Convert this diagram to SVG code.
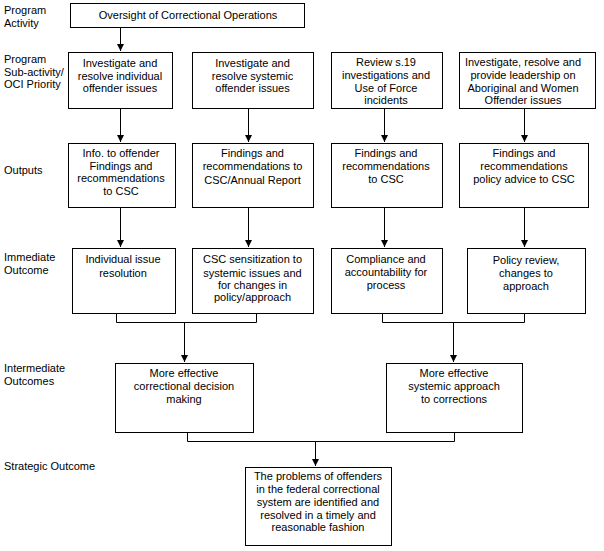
<svg xmlns="http://www.w3.org/2000/svg" width="604" height="551" viewBox="0 0 604 551">
<style>
.box{fill:#fff;stroke:#000;stroke-width:1}
.ln{fill:none;stroke:#000;stroke-width:1}
text{font-family:"Liberation Sans",Arial,sans-serif;font-size:11px;fill:#000}
.c{text-anchor:middle}
</style>
<defs>
<marker id="ah" markerUnits="userSpaceOnUse" markerWidth="7" markerHeight="7" refX="7" refY="3.5" orient="auto" viewBox="0 0 7 7">
<path d="M0,0 L7,3.5 L0,7 z" fill="#000"/>
</marker>
</defs>
<rect width="604" height="551" fill="#fff"/>
<g id="labels">
<text x="4" y="14">Program</text>
<text x="4" y="27">Activity</text>
<text x="4" y="63">Program</text>
<text x="4" y="76">Sub-activity/</text>
<text x="4" y="88">OCI Priority</text>
<text x="4" y="174">Outputs</text>
<text x="4" y="261">Immediate</text>
<text x="4" y="274">Outcome</text>
<text x="4" y="372">Intermediate</text>
<text x="4" y="385">Outcomes</text>
<text x="4" y="470">Strategic Outcome</text>
</g>
<g id="connectors">
<path class="ln" d="M120.5,28 V51" marker-end="url(#ah)"/>
<path class="ln" d="M120.5,109 V142" marker-end="url(#ah)"/>
<path class="ln" d="M248.5,109 V142" marker-end="url(#ah)"/>
<path class="ln" d="M384.5,109 V142" marker-end="url(#ah)"/>
<path class="ln" d="M524.5,109 V142" marker-end="url(#ah)"/>
<path class="ln" d="M120.5,207 V247" marker-end="url(#ah)"/>
<path class="ln" d="M248.5,207 V247" marker-end="url(#ah)"/>
<path class="ln" d="M384.5,207 V247" marker-end="url(#ah)"/>
<path class="ln" d="M524.5,207 V247" marker-end="url(#ah)"/>
<path class="ln" d="M116.5,313 V322.5 H256.5 V313"/>
<path class="ln" d="M184.5,322.5 V362" marker-end="url(#ah)"/>
<path class="ln" d="M382.5,313 V322.5 H524.5 V313"/>
<path class="ln" d="M453.5,322.5 V362" marker-end="url(#ah)"/>
<path class="ln" d="M187.5,427 V441.5 H454.5 V427"/>
<path class="ln" d="M315.5,441.5 V466" marker-end="url(#ah)"/>
</g>
<g id="n-top">
<rect class="box" x="70.5" y="3.5" width="234" height="24"/>
<text class="c" x="188" y="19">Oversight of Correctional Operations</text>
</g>
<g id="n-sub1">
<rect class="box" x="68.5" y="52.5" width="104" height="56"/>
<text class="c" x="120" y="67">Investigate and</text>
<text class="c" x="120" y="79.5">resolve individual</text>
<text class="c" x="120" y="92">offender issues</text>
</g>
<g id="n-sub2">
<rect class="box" x="192.5" y="52.5" width="121" height="56"/>
<text class="c" x="252.5" y="67">Investigate and</text>
<text class="c" x="252.5" y="79.5">resolve systemic</text>
<text class="c" x="252.5" y="92">offender issues</text>
</g>
<g id="n-sub3">
<rect class="box" x="331.5" y="52.5" width="111" height="56"/>
<text class="c" x="386" y="66">Review s.19</text>
<text class="c" x="386" y="79">investigations and</text>
<text class="c" x="386" y="91.5">Use of Force</text>
<text class="c" x="386" y="104">incidents</text>
</g>
<g id="n-sub4">
<rect class="box" x="459.5" y="52.5" width="136" height="56"/>
<text class="c" x="523" y="66">Investigate, resolve and</text>
<text class="c" x="523" y="79">provide leadership on</text>
<text class="c" x="523" y="91.5">Aboriginal and Women</text>
<text class="c" x="523" y="104">Offender issues</text>
</g>
<g id="n-out1">
<rect class="box" x="68.5" y="143.5" width="107" height="64"/>
<text class="c" x="121" y="157">Info. to offender</text>
<text class="c" x="121" y="169.5">Findings and</text>
<text class="c" x="121" y="182">recommendations</text>
<text class="c" x="121" y="194.5">to CSC</text>
</g>
<g id="n-out2">
<rect class="box" x="192.5" y="143.5" width="121" height="64"/>
<text class="c" x="252.5" y="157">Findings and</text>
<text class="c" x="252.5" y="170">recommendations to</text>
<text class="c" x="252.5" y="183.5">CSC/Annual Report</text>
</g>
<g id="n-out3">
<rect class="box" x="331.5" y="143.5" width="111" height="64"/>
<text class="c" x="386" y="157">Findings and</text>
<text class="c" x="386" y="170">recommendations</text>
<text class="c" x="386" y="183">to CSC</text>
</g>
<g id="n-out4">
<rect class="box" x="459.5" y="143.5" width="129" height="64"/>
<text class="c" x="524" y="157">Findings and</text>
<text class="c" x="524" y="170">recommendations</text>
<text class="c" x="524" y="183">policy advice to CSC</text>
</g>
<g id="n-imm1">
<rect class="box" x="72.5" y="248.5" width="103" height="65"/>
<text class="c" x="123" y="263">Individual issue</text>
<text class="c" x="123" y="276.5">resolution</text>
</g>
<g id="n-imm2">
<rect class="box" x="192.5" y="248.5" width="121" height="65"/>
<text class="c" x="252.5" y="263">CSC sensitization to</text>
<text class="c" x="252.5" y="276.5">systemic issues and</text>
<text class="c" x="252.5" y="289">for changes in</text>
<text class="c" x="252.5" y="301">policy/approach</text>
</g>
<g id="n-imm3">
<rect class="box" x="331.5" y="248.5" width="111" height="65"/>
<text class="c" x="386" y="263">Compliance and</text>
<text class="c" x="386" y="276">accountability for</text>
<text class="c" x="386" y="289">process</text>
</g>
<g id="n-imm4">
<rect class="box" x="467.5" y="248.5" width="118" height="65"/>
<text class="c" x="526" y="264">Policy review,</text>
<text class="c" x="526" y="277">changes to</text>
<text class="c" x="526" y="290">approach</text>
</g>
<g id="n-int1">
<rect class="box" x="115.5" y="363.5" width="138" height="69"/>
<text class="c" x="184" y="377">More effective</text>
<text class="c" x="184" y="390">correctional decision</text>
<text class="c" x="184" y="403">making</text>
</g>
<g id="n-int2">
<rect class="box" x="386.5" y="363.5" width="136" height="69"/>
<text class="c" x="454" y="377">More effective</text>
<text class="c" x="454" y="390">systemic approach</text>
<text class="c" x="454" y="403">to corrections</text>
</g>
<g id="n-strat">
<rect class="box" x="245.5" y="467.5" width="146" height="78"/>
<text class="c" x="318" y="480">The problems of offenders</text>
<text class="c" x="318" y="493">in the federal correctional</text>
<text class="c" x="318" y="506">system are identified and</text>
<text class="c" x="318" y="518.5">resolved in a timely and</text>
<text class="c" x="318" y="531">reasonable fashion</text>
</g>
</svg>
